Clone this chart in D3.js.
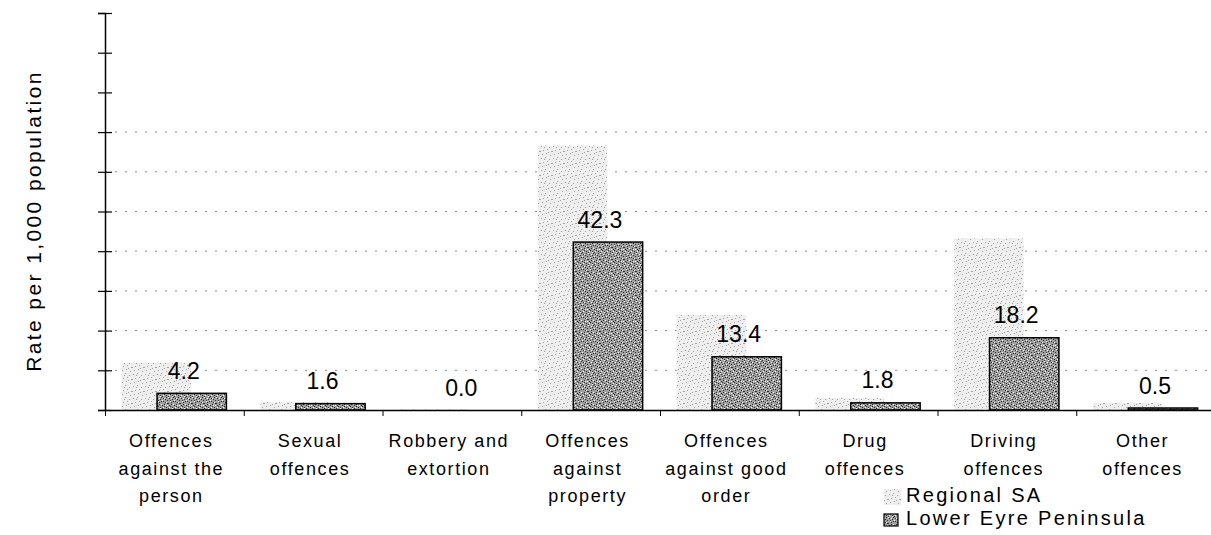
<!DOCTYPE html>
<html><head><meta charset="utf-8">
<script src="https://cdn.jsdelivr.net/npm/d3@7"></script>
<style>body{margin:0;background:#fff}svg{display:block;font-family:Arial,"Liberation Sans",sans-serif}</style>
</head><body><svg id="c" width="1211" height="535"></svg>
<script>
const categories = [
  ["Offences","against the","person"],
  ["Sexual","offences"],
  ["Robbery and","extortion"],
  ["Offences","against","property"],
  ["Offences","against good","order"],
  ["Drug","offences"],
  ["Driving","offences"],
  ["Other","offences"]
];
const regionalSA = [11.9, 2.0, 0.2, 66.6, 23.9, 3.0, 43.2, 1.8];
const lowerEyre = [4.2, 1.6, 0.0, 42.3, 13.4, 1.8, 18.2, 0.5];
const yTicks = [0,10,20,30,40,50,60,70,80,90,100];
const gridTicks = [10,20,30,40,50,60,70];
const seriesNames = ["Regional SA","Lower Eyre Peninsula"];

const svg = d3.select("#c");
const defs = svg.append("defs");
// stipple textures (fixed deterministic dot layout)
const dotsA = [[1,2],[5,1],[9,3],[3,6],[7,5],[11,7],[2,10],[6,9],[10,11],[4,3],[8,8],[0,7],[6,0],[10,1],[2,4],[8,10],[0,0],[4,11],[11,4],[7,2],[3,8],[9,6],[5,5],[1,9]];
const dotsB = [[0,1],[4,0],[8,2],[2,5],[6,4],[10,6],[1,11],[5,8],[9,9],[3,2],[7,11],[11,9]];
function stipple(id, bg, dark, nDark, light, nLight){
  const p = defs.append("pattern").attr("id",id).attr("patternUnits","userSpaceOnUse").attr("width",12).attr("height",12);
  p.append("rect").attr("width",12).attr("height",12).attr("fill",bg);
  dotsA.slice(0,nDark).forEach(d=>p.append("rect").attr("x",d[0]).attr("y",d[1]).attr("width",1).attr("height",1).attr("fill",dark));
  dotsB.slice(0,nLight).forEach(d=>p.append("rect").attr("x",d[0]).attr("y",d[1]).attr("width",1).attr("height",1).attr("fill",light));
}
stipple("pReg","#eeeeee","#a0a0a0",12,"#ffffff",6);
stipple("pLep","#a0a0a0","#2e2e2e",24,"#ffffff",12);

const x0 = 105, x1 = 1215, yTop = 13, yBot = 410;
const x = d3.scaleBand().domain(d3.range(categories.length)).range([x0,x1]).paddingInner(0).paddingOuter(0);
const y = d3.scaleLinear().domain([0,100]).range([yBot,yTop]);
const bw = x.bandwidth();

// gridlines
svg.append("g").selectAll("line").data(gridTicks).join("line")
  .attr("x1",x0).attr("x2",1211).attr("y1",d=>y(d)).attr("y2",d=>y(d))
  .attr("stroke","#8a8a8a").attr("stroke-width",1).attr("stroke-dasharray","2,8");

// regional bars
svg.append("g").selectAll("rect").data(regionalSA).join("rect")
  .attr("x",(d,i)=>x(i)+bw*0.12).attr("width",bw*0.5)
  .attr("y",d=>y(d)).attr("height",d=>yBot-y(d))
  .attr("fill","url(#pReg)");
// lower eyre bars
svg.append("g").selectAll("rect").data(lowerEyre).join("rect")
  .attr("x",(d,i)=>x(i)+bw*0.375).attr("width",bw*0.5)
  .attr("y",d=>y(d)).attr("height",d=>yBot-y(d))
  .attr("fill","url(#pLep)").attr("stroke","#000").attr("stroke-width",1.5);

// value labels
svg.append("g").selectAll("text").data(lowerEyre).join("text")
  .attr("x",(d,i)=>x(i)+bw*0.625-8).attr("y",d=>y(d)-14.5)
  .attr("text-anchor","middle").attr("font-size",23).attr("fill","#000")
  .text(d=>d.toFixed(1));

// y axis
const ya = d3.axisLeft(y).tickValues(yTicks).tickSize(7).tickFormat("");
const yg = svg.append("g").attr("transform",`translate(${x0},0)`).call(ya);
yg.selectAll(".tick line").attr("x2",-7).attr("x1",7).attr("stroke","#000").attr("stroke-width",1.2);
yg.select(".domain").attr("stroke","#000").attr("stroke-width",1.5);

// x axis
const xa = d3.axisBottom(d3.scaleLinear().domain([0,categories.length]).range([x0,x1]))
  .tickValues(d3.range(categories.length+1)).tickSize(6).tickFormat("").tickSizeOuter(0);
const xg = svg.append("g").attr("transform",`translate(0,${yBot})`).call(xa);
xg.select(".domain").attr("stroke","#000").attr("stroke-width",1.5);
xg.selectAll(".tick line").attr("stroke","#000");

// category labels
const cl = svg.append("g");
categories.forEach((lines,i)=>{
  const t = cl.append("text").attr("text-anchor","middle").attr("font-size",18).attr("letter-spacing",1.6).attr("fill","#000");
  lines.forEach((l,j)=>t.append("tspan").attr("x",x(i)+bw/2-3).attr("y",447+j*27.5).text(l));
});

// y title
svg.append("text").attr("transform","translate(41,221) rotate(-90)").attr("text-anchor","middle")
  .attr("font-size",21).attr("letter-spacing",2.4).attr("fill","#000").text("Rate per 1,000 population");

// legend
const lg = svg.append("g");
lg.append("rect").attr("x",884).attr("y",489).attr("width",17).attr("height",16).attr("fill","url(#pReg)");
lg.append("text").attr("x",906).attr("y",502).attr("font-size",20).attr("letter-spacing",2.3).text(seriesNames[0]);
lg.append("rect").attr("x",884).attr("y",514).attr("width",14).attr("height",12).attr("fill","url(#pLep)").attr("stroke","#000").attr("stroke-width",1.2);
lg.append("text").attr("x",906).attr("y",525).attr("font-size",20).attr("letter-spacing",2.3).text(seriesNames[1]);
</script></body></html>
